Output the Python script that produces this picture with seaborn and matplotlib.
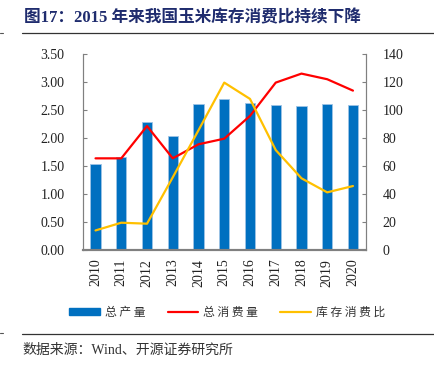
import numpy as np
import pandas as pd
import matplotlib
matplotlib.use("Agg")
import matplotlib.pyplot as plt
from matplotlib.lines import Line2D
from matplotlib.patches import Patch
import seaborn as sns

years = ["2010", "2011", "2012", "2013", "2014", "2015", "2016", "2017", "2018", "2019", "2020"]
production = [1.53, 1.67, 2.28, 2.03, 2.60, 2.69, 2.62, 2.58, 2.57, 2.61, 2.59]
consumption = [65.5, 65.5, 88.5, 65.5, 75.5, 79.5, 95.7, 119.4, 125.8, 121.8, 113.7]
stock_ratio = [14.2, 19.7, 19.0, 52.0, 85.5, 119.4, 107.8, 71.4, 51.3, 41.3, 45.8]

left_ticks = [0.0, 0.5, 1.0, 1.5, 2.0, 2.5, 3.0, 3.5]
right_ticks = [0, 20, 40, 60, 80, 100, 120, 140]

sns.set_theme(style="white")
plt.rcParams["font.family"] = ["Liberation Serif", "Noto Sans CJK SC", "DejaVu Sans"]

BLUE = "#0070C0"
RED = "#FF0000"
YELLOW = "#FFC000"
SPINE = "#808080"

df = pd.DataFrame({"year": years, "prod": production,
                   "cons": consumption, "ratio": stock_ratio,
                   "pos": np.arange(len(years))})

fig = plt.figure(figsize=(4.35, 3.65), dpi=100)
ax = fig.add_axes([0.190, 0.314, 0.651, 0.539])

sns.barplot(data=df, x="year", y="prod", color=BLUE, width=0.4,
            edgecolor="#9DC3E6", linewidth=0.6, saturation=1, ax=ax)
ax.set_ylim(0, 3.5)
ax.set_yticks(left_ticks)
ax.set_yticklabels([f"{v:.2f}" for v in left_ticks])
ax.set_xlim(-0.5, len(years) - 0.5)
ax.set_xlabel("")
ax.set_ylabel("")

ax2 = ax.twinx()
sns.lineplot(data=df, x="pos", y="cons", color=RED, linewidth=1.6, ax=ax2)
sns.lineplot(data=df, x="pos", y="ratio", color=YELLOW, linewidth=1.6, ax=ax2)
ax2.set_ylim(0, 140)
ax2.set_yticks(right_ticks)
ax2.set_xlim(-0.5, len(years) - 0.5)
ax2.set_xlabel("")
ax2.set_ylabel("")
ax2.grid(False)
ax.grid(False)

# x ticks: labels at category centers, tick marks at boundaries
ax.set_xticks(np.arange(len(years)))
ax.set_xticklabels(years, rotation=90, fontsize=10, color="#222222")
ax.tick_params(axis="x", length=0, pad=6)
ax.set_xticks(np.arange(len(years) + 1) - 0.5, minor=True)
ax.tick_params(axis="x", which="minor", direction="in", length=3, color=SPINE, width=0.8)

ax.tick_params(axis="y", direction="in", length=3, color=SPINE, width=0.8,
               labelsize=10, labelcolor="#222222", pad=13, left=True)
ax2.tick_params(axis="y", direction="in", length=3, color=SPINE, width=0.8,
                labelsize=10, labelcolor="#222222", pad=12, right=True)

for a in (ax, ax2):
    a.spines["top"].set_visible(False)
    for s in ("left", "right"):
        a.spines[s].set_color(SPINE)
        a.spines[s].set_linewidth(0.8)
    a.spines["bottom"].set_color(SPINE)
    a.spines["bottom"].set_linewidth(1.5)

# legend
handles = [Patch(facecolor=BLUE, edgecolor=BLUE),
           Line2D([0], [0], color=RED, linewidth=1.6),
           Line2D([0], [0], color=YELLOW, linewidth=1.6)]
labels = ["总 产 量", "总 消 费 量", "库 存 消 费 比"]
fig.legend(handles, labels, loc="center", bbox_to_anchor=(0.522, 0.145), ncol=3,
           frameon=False, handlelength=2.6, handleheight=0.45,
           columnspacing=1.9, handletextpad=0.4,
           prop={"family": ["Noto Sans CJK SC"], "size": 8.5})
for t in fig.legends[0].get_texts():
    t.set_color("#333333")

# title
fig.text(0.055, 0.951, "图17：2015 年来我国玉米库存消费比持续下降", fontsize=12,
         fontweight="bold", color="#1F2C6E", ha="left", va="center")
fig.add_artist(Line2D([0.05, 1.0], [0.910, 0.910], color="#333333", linewidth=0.9))
fig.add_artist(Line2D([0.0, 0.008], [0.909, 0.909], color="#555555", linewidth=0.8))

# footer
fig.add_artist(Line2D([0.05, 1.0], [0.086, 0.086], color="#333333", linewidth=0.9))
fig.add_artist(Line2D([0.0, 0.008], [0.087, 0.087], color="#555555", linewidth=0.8))
fig.text(0.052, 0.040, "数据来源：Wind、开源证券研究所", fontsize=10,
         color="#333333", ha="left", va="center")

fig.savefig("out.png", dpi=100, facecolor="white")
